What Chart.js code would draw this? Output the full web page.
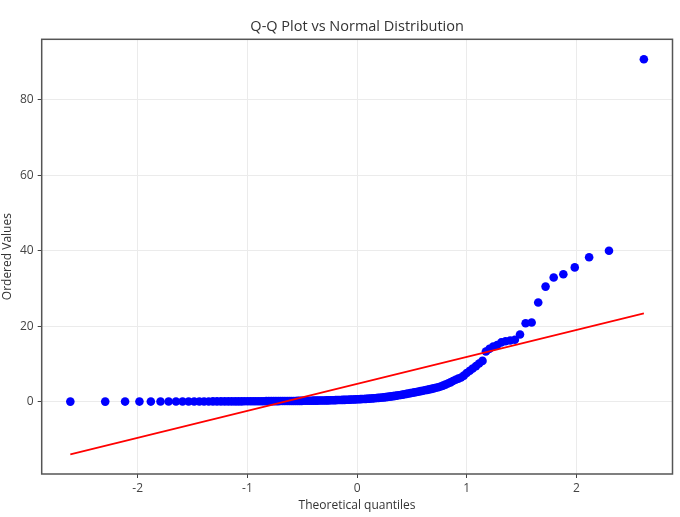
<!DOCTYPE html>
<html>
<head>
<meta charset="utf-8">
<title>Q-Q Plot vs Normal Distribution</title>
<script src="https://cdn.jsdelivr.net/npm/chart.js@4.4.1/dist/chart.umd.min.js"></script>
<style>
  html, body { margin: 0; padding: 0; background: #fff; }
  #wrap { width: 680px; height: 517px; position: relative; }
</style>
</head>
<body>
<div id="wrap"><canvas id="qqChart"></canvas></div>
<script>
// theoretical quantiles
const theoreticalQ = [
  -2.614, -2.296, -2.115, -1.984, -1.880, -1.792, -1.718, -1.651, -1.591, -1.536,
  -1.485, -1.438, -1.395, -1.353, -1.314, -1.277, -1.241, -1.207, -1.174, -1.143,
  -1.112, -1.083, -1.054, -1.027, -0.999, -0.973, -0.948, -0.923, -0.898, -0.874,
  -0.851, -0.828, -0.805, -0.783, -0.761, -0.740, -0.719, -0.698, -0.678, -0.658,
  -0.638, -0.618, -0.599, -0.580, -0.561, -0.542, -0.523, -0.505, -0.486, -0.468,
  -0.451, -0.433, -0.415, -0.398, -0.380, -0.363, -0.346, -0.329, -0.312, -0.295,
  -0.278, -0.261, -0.244, -0.228, -0.211, -0.195, -0.178, -0.162, -0.146, -0.130,
  -0.113, -0.097, -0.081, -0.065, -0.048, -0.032, -0.016, 0.000, 0.016, 0.032,
  0.048, 0.065, 0.081, 0.097, 0.113, 0.130, 0.146, 0.162, 0.178, 0.195,
  0.211, 0.228, 0.244, 0.261, 0.278, 0.295, 0.312, 0.329, 0.346, 0.363,
  0.380, 0.398, 0.415, 0.433, 0.451, 0.468, 0.486, 0.505, 0.523, 0.542,
  0.561, 0.580, 0.599, 0.618, 0.638, 0.658, 0.678, 0.698, 0.719, 0.740,
  0.761, 0.783, 0.805, 0.828, 0.851, 0.874, 0.898, 0.923, 0.948, 0.973,
  0.999, 1.027, 1.054, 1.083, 1.112, 1.143, 1.174, 1.207, 1.241, 1.277,
  1.314, 1.353, 1.395, 1.438, 1.485, 1.536, 1.591, 1.651, 1.718, 1.792,
  1.880, 1.984, 2.115, 2.296, 2.614
];

// ordered sample values
const orderedVals = [
  0.00, 0.00, 0.01, 0.01, 0.01, 0.02, 0.02, 0.02, 0.03, 0.03,
  0.03, 0.04, 0.04, 0.04, 0.05, 0.05, 0.05, 0.06, 0.06, 0.06,
  0.07, 0.07, 0.07, 0.08, 0.08, 0.09, 0.09, 0.10, 0.10, 0.11,
  0.11, 0.12, 0.12, 0.13, 0.13, 0.14, 0.14, 0.15, 0.15, 0.16,
  0.16, 0.17, 0.17, 0.18, 0.18, 0.19, 0.20, 0.20, 0.21, 0.22,
  0.22, 0.23, 0.24, 0.25, 0.26, 0.27, 0.28, 0.29, 0.30, 0.31,
  0.32, 0.33, 0.35, 0.36, 0.38, 0.39, 0.41, 0.42, 0.44, 0.45,
  0.47, 0.49, 0.51, 0.53, 0.55, 0.57, 0.59, 0.61, 0.63, 0.65,
  0.68, 0.70, 0.73, 0.76, 0.79, 0.83, 0.87, 0.91, 0.95, 0.99,
  1.03, 1.08, 1.13, 1.19, 1.25, 1.32, 1.39, 1.46, 1.53, 1.60,
  1.68, 1.76, 1.85, 1.94, 2.04, 2.14, 2.24, 2.34, 2.44, 2.55,
  2.66, 2.77, 2.88, 3.00, 3.12, 3.25, 3.38, 3.52, 3.66, 3.82,
  4.00, 4.25, 4.50, 4.80, 5.10, 5.45, 5.80, 6.10, 6.40, 6.90,
  7.60, 8.20, 8.80, 9.40, 10.10, 10.80, 13.30, 14.00, 14.60, 15.00,
  15.70, 16.00, 16.20, 16.40, 17.80, 20.80, 21.00, 26.30, 30.50, 32.90,
  33.80, 35.60, 38.30, 40.00, 90.80
];

// fitted reference line, end points
const fitX = [-2.614, 2.614];
const fitY = [-14.0, 23.4];

const xTicks = [-2, -1, 0, 1, 2];
const yTicks = [0, 20, 40, 60, 80];

const frame = {
  id: 'frame',
  afterDatasetsDraw(chart) {
    const a = chart.chartArea;
    const ctx = chart.ctx;
    ctx.save();
    ctx.strokeStyle = '#555';
    ctx.lineWidth = 1.5;
    ctx.strokeRect(a.left, a.top, a.right - a.left, a.bottom - a.top);
    ctx.restore();
  }
};

const ctx = document.getElementById('qqChart');
new Chart(ctx, {
  type: 'scatter',
  data: {
    datasets: [
      {
        type: 'line',
        label: 'fit',
        data: fitX.map((x, i) => ({ x: x, y: fitY[i] })),
        borderColor: '#ff0000',
        borderWidth: 1.6,
        pointRadius: 0,
        fill: false,
        order: 0
      },
      {
        label: 'sample',
        data: theoreticalQ.map((x, i) => ({ x: x, y: orderedVals[i] })),
        backgroundColor: '#0000ff',
        borderColor: '#0000ff',
        borderWidth: 0,
        pointRadius: 4.3,
        order: 1
      }
    ]
  },
  options: {
    responsive: true,
    maintainAspectRatio: false,
    animation: false,
    layout: { padding: { left: 0, right: 7.5, top: 0, bottom: 0 } },
    plugins: {
      legend: { display: false },
      tooltip: { enabled: false },
      title: {
        display: true,
        text: 'Q-Q Plot vs Normal Distribution',
        fullSize: false,
        color: '#333',
        font: { family: 'Open Sans', size: 14.5, weight: 'normal' },
        padding: { top: 18.3, bottom: 3.6 }
      }
    },
    scales: {
      x: {
        type: 'linear',
        min: -2.875,
        max: 2.875,
        afterBuildTicks: s => { s.ticks = xTicks.map(v => ({ value: v })); },
        afterFit: s => { s.height = 43; },
        grid: { color: '#ebebeb', lineWidth: 1, tickColor: '#444', tickLength: 4 },
        border: { display: false },
        ticks: {
          color: '#444',
          font: { family: 'Open Sans', size: 12 },
          padding: 3.5
        },
        title: {
          display: true,
          text: 'Theoretical quantiles',
          color: '#333',
          font: { family: 'Open Sans', size: 12 },
          padding: { top: 0, bottom: 3.8 }
        }
      },
      y: {
        type: 'linear',
        min: -19.2,
        max: 96.1,
        afterBuildTicks: s => { s.ticks = yTicks.map(v => ({ value: v })); },
        afterFit: s => { s.width = 41.7; },
        grid: { color: '#ebebeb', lineWidth: 1, tickColor: '#444', tickLength: 4 },
        border: { display: false },
        ticks: {
          color: '#444',
          font: { family: 'Open Sans', size: 12 },
          padding: 4
        },
        title: {
          display: true,
          text: 'Ordered Values',
          color: '#333',
          font: { family: 'Open Sans', size: 12 },
          padding: { top: 0.8, bottom: 0 }
        }
      }
    }
  },
  plugins: [frame]
});
</script>
</body>
</html>
